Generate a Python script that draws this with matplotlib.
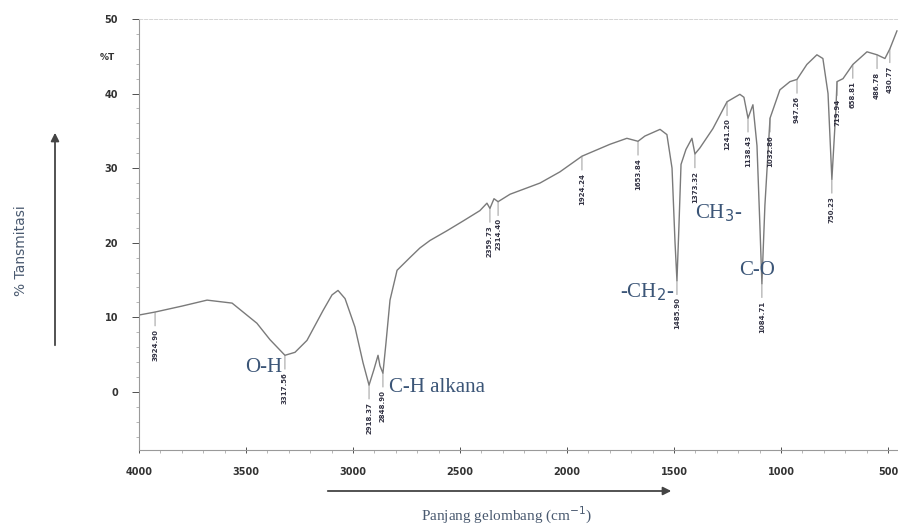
import numpy as np
import matplotlib.pyplot as plt

# spectrum: wavenumber (cm-1) and %T
wn = [4000, 3925, 3799, 3682, 3565, 3449, 3388, 3318, 3271, 3215, 3140, 3098,
      3070, 3037, 2991, 2953, 2925, 2902, 2883, 2874, 2860, 2846, 2827, 2794,
      2734, 2687, 2640, 2561, 2486, 2407, 2374, 2360, 2341, 2322, 2266, 2126,
      2033, 1930, 1799, 1720, 1668, 1636, 1565, 1533, 1509, 1495, 1486, 1477,
      1467, 1444, 1416, 1402, 1379, 1318, 1252, 1192, 1173, 1154, 1131, 1112,
      1098, 1089, 1075, 1051, 1005, 958, 925, 879, 832, 804, 780, 762, 743,
      738, 710, 664, 598, 551, 514, 491, 458]
T = [10.3, 10.7, 11.5, 12.3, 11.9, 9.2, 7.0, 4.9, 5.3, 6.9, 10.9, 13.0,
     13.6, 12.5, 8.7, 3.9, 0.9, 3.0, 4.9, 3.5, 2.5, 6.5, 12.3, 16.3,
     18.0, 19.3, 20.3, 21.6, 22.9, 24.3, 25.3, 24.6, 25.9, 25.5, 26.5, 28.0,
     29.5, 31.6, 33.2, 34.0, 33.6, 34.3, 35.2, 34.5, 30.0, 20.0, 14.9, 22.0,
     30.5, 32.5, 34.0, 31.9, 32.7, 35.3, 38.9, 39.9, 39.5, 36.7, 38.5, 33.0,
     22.0, 14.5, 25.0, 36.7, 40.5, 41.6, 41.9, 43.9, 45.2, 44.7, 40.0, 28.5, 38.0,
     41.6, 42.0, 43.9, 45.6, 45.2, 44.7, 46.0, 48.4]

# peak picks: position, %T at pick, printed value
peak_wn = [3925, 3318, 2925, 2860, 2360, 2322, 1930, 1668, 1486, 1402,
           1252, 1154, 1089, 1051, 925, 762, 738, 664, 551, 491]
peak_T = [10.7, 4.9, 0.9, 2.5, 24.6, 25.5, 31.6, 33.6, 14.9, 31.9,
          38.9, 36.7, 14.5, 36.7, 41.9, 28.5, 41.6, 43.9, 45.2, 46.0]
peak_txt = ['3924.90', '3317.56', '2918.37', '2848.90', '2359.73', '2314.40',
            '1924.24', '1653.84', '1485.90', '1373.32', '1241.20', '1138.43',
            '1084.71', '1032.86', '947.26', '750.23', '719.94', '658.81',
            '486.78', '430.77']

groups = ['O-H', 'C-H alkana', '-CH$_2$-', 'CH$_3$-', 'C-O']
group_wn = [3330, 2830, 1500, 1400, 1110]
group_T = [3.2, 0.6, 13.3, 24.0, 16.3]

W, H = 898, 524
fig = plt.figure(figsize=(W / 100, H / 100), dpi=100)
ax = fig.add_axes([139 / W, (H - 450) / H, (W - 139) / W, (450 - 19) / H])

ax.plot(wn, T, color='#7a7a7a', lw=1.0)
ax.set_xlim(4000, 453)
ax.set_ylim(-7.8, 50)

for w, t, s in zip(peak_wn, peak_T, peak_txt):
    ax.annotate(s, xy=(w, t), xytext=(0, -12), textcoords='offset points',
                rotation=90, ha='center', va='top', fontsize=5,
                fontweight='bold', color='#333344',
                arrowprops=dict(arrowstyle='-', color='#888888', lw=0.6,
                                shrinkA=0, shrinkB=0))

ha_list = ['right', 'left', 'right', 'left', 'center']
for g, w, t, h in zip(groups, group_wn, group_T, ha_list):
    ax.text(w, t, g, ha=h, va='center', fontsize=15, color='#3b5577',
            family='Liberation Serif')

ax.set_xticks([4000, 3500, 3000, 2500, 2000, 1500, 1000, 500])
ax.set_xticks(np.arange(4000, 450, -100), minor=True)
ax.set_yticks([0, 10, 20, 30, 40, 50])
ax.set_yticks(np.arange(-6, 50, 2), minor=True)
ax.tick_params(axis='both', labelsize=7, colors='#333333', width=0.6)
ax.tick_params(axis='y', which='major', length=5, pad=10)
ax.tick_params(axis='x', which='major', length=4, pad=10, direction='inout')
ax.tick_params(which='minor', length=2.5, color='#999999', width=0.5)
for lab in ax.get_xticklabels() + ax.get_yticklabels():
    lab.set_fontweight('bold')

ax.spines['right'].set_visible(False)
ax.spines['top'].set_linestyle((0, (4, 2)))
ax.spines['top'].set_color('#cfcfcf')
ax.spines['top'].set_linewidth(0.6)
for s in ['left', 'bottom']:
    ax.spines[s].set_color('#9a9a9a')
    ax.spines[s].set_linewidth(0.8)

fig.text(107 / W, 1 - 57 / H, '%T', fontsize=6.5, fontweight='bold',
         ha='center', va='center', color='#333333')

# axis arrows and captions
ax.annotate('', xy=(55 / W, 1 - 130 / H), xytext=(55 / W, 1 - 348 / H),
            xycoords='figure fraction', textcoords='figure fraction',
            arrowprops=dict(arrowstyle='-|>', color='#444444', lw=1.3,
                            mutation_scale=12))
fig.text(21 / W, 1 - 251 / H, '% Tansmitasi', rotation=90, fontsize=10,
         ha='center', va='center', color='#4a5a70')
ax.annotate('', xy=(674 / W, 1 - 491 / H), xytext=(325 / W, 1 - 491 / H),
            xycoords='figure fraction', textcoords='figure fraction',
            arrowprops=dict(arrowstyle='-|>', color='#444444', lw=1.3,
                            mutation_scale=12))
fig.text(507 / W, 1 - 515 / H, 'Panjang gelombang (cm$^{-1}$)', fontsize=11,
         ha='center', va='center', color='#4a5a70', family='Liberation Serif')

fig.savefig('out.png', dpi=100)
plt.close()
